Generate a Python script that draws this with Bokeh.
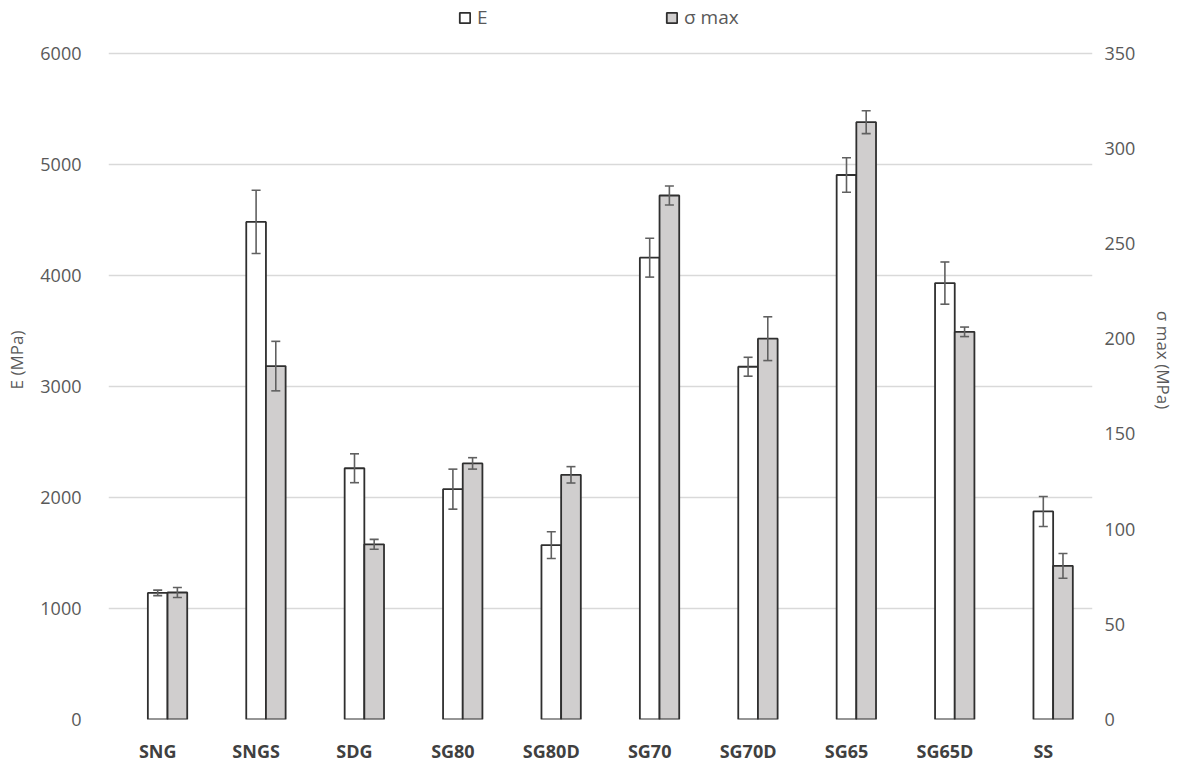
from bokeh.plotting import figure
from bokeh.models import (ColumnDataSource, FactorRange, Range1d, LinearAxis,
                          FixedTicker, Whisker, TeeHead, Legend, LegendItem)
from bokeh.transform import dodge
from bokeh.embed import file_html
from bokeh.resources import INLINE

# Sample series
categories = ["SNG", "SNGS", "SDG", "SG80", "SG80D", "SG70", "SG70D", "SG65", "SG65D", "SS"]

# Young's modulus E (MPa) and its standard deviation
E_mean = [1140, 4480, 2262, 2074, 1570, 4158, 3176, 4902, 3929, 1873]
E_sd = [25, 285, 130, 180, 120, 175, 85, 155, 190, 135]

# Maximum stress sigma max (MPa) and its standard deviation
S_mean = [66.7, 185.6, 92.0, 134.5, 128.5, 275.2, 200.0, 313.7, 203.6, 80.7]
S_sd = [2.6, 13.0, 2.6, 3.0, 4.3, 5.0, 11.5, 6.0, 2.5, 6.5]

left_ticks = [0, 1000, 2000, 3000, 4000, 5000, 6000]
right_ticks = [0, 50, 100, 150, 200, 250, 300, 350]

src = ColumnDataSource(dict(
    cat=categories,
    E=E_mean,
    E_lo=[m - s for m, s in zip(E_mean, E_sd)],
    E_hi=[m + s for m, s in zip(E_mean, E_sd)],
    S=S_mean,
    S_lo=[m - s for m, s in zip(S_mean, S_sd)],
    S_hi=[m + s for m, s in zip(S_mean, S_sd)],
))

FONT = "Open Sans"
TICK_COLOR = "#595959"
GRID_COLOR = "#d9d9d9"
EDGE = "#2f2f2f"
ERR = "#606060"

# The frame runs to the top edge so the legend can sit inside it;
# the value ranges are stretched so that 6000 / 350 land 672 px above zero.
FRAME_H = 725
AXIS_H = 672
p = figure(width=1182, height=765, output_backend="svg", toolbar_location=None,
           x_range=FactorRange(*categories),
           y_range=Range1d(0, left_ticks[-1] * FRAME_H / AXIS_H),
           min_border_left=108, min_border_right=90, min_border_top=0,
           min_border_bottom=40)
p.extra_y_ranges = {"s": Range1d(0, right_ticks[-1] * FRAME_H / AXIS_H)}
p.outline_line_color = None
p.background_fill_color = "white"
p.border_fill_color = "white"

# Bars: E on the primary axis, sigma max on the secondary axis
r_e = p.vbar(x=dodge("cat", 0.0, range=p.x_range), top="E", width=0.2, source=src,
             fill_color="white", line_color=EDGE, line_width=1.8)
r_s = p.vbar(x=dodge("cat", 0.2, range=p.x_range), top="S", width=0.2, source=src,
             fill_color="#d0cece", line_color=EDGE, line_width=1.8, y_range_name="s")

# Error bars, drawn over the bars
def head():
    return TeeHead(size=9, line_color=ERR, line_width=1.6)

p.add_layout(Whisker(source=src, base=dodge("cat", 0.0, range=p.x_range),
                     upper="E_hi", lower="E_lo", line_color=ERR, line_width=1.6,
                     upper_head=head(), lower_head=head(), level="overlay"))
p.add_layout(Whisker(source=src, base=dodge("cat", 0.2, range=p.x_range),
                     upper="S_hi", lower="S_lo", line_color=ERR, line_width=1.6,
                     upper_head=head(), lower_head=head(), y_range_name="s",
                     level="overlay"))

# Grid
p.xgrid.grid_line_color = None
p.ygrid.grid_line_color = GRID_COLOR
p.ygrid.grid_line_width = 1.3
p.yaxis.ticker = FixedTicker(ticks=left_ticks)

# Left axis
ya = p.yaxis[0]
ya.axis_label = "E (MPa)"
ya.axis_line_color = None
ya.major_tick_line_color = None
ya.minor_tick_line_color = None
ya.major_label_standoff = 21
ya.major_label_text_font = FONT
ya.major_label_text_font_size = "18px"
ya.major_label_text_color = TICK_COLOR
ya.axis_label_text_font = FONT
ya.axis_label_text_font_size = "17px"
ya.axis_label_text_font_style = "normal"
ya.axis_label_text_color = TICK_COLOR
ya.axis_label_standoff = 9

# Right axis
ra = LinearAxis(y_range_name="s", ticker=FixedTicker(ticks=right_ticks),
                axis_label="σ max (MPa)")
ra.axis_line_color = None
ra.major_tick_line_color = None
ra.minor_tick_line_color = None
ra.major_label_standoff = 6
ra.major_label_text_font = FONT
ra.major_label_text_font_size = "18px"
ra.major_label_text_color = TICK_COLOR
ra.axis_label_text_font = FONT
ra.axis_label_text_font_size = "17px"
ra.axis_label_text_font_style = "normal"
ra.axis_label_text_color = TICK_COLOR
ra.axis_label_standoff = 14
p.add_layout(ra, "right")

# Category axis
xa = p.xaxis[0]
xa.axis_line_color = None
xa.major_tick_line_color = None
xa.minor_tick_line_color = None
xa.major_label_standoff = 13
xa.major_label_text_font = FONT
xa.major_label_text_font_size = "18px"
xa.major_label_text_font_style = "bold"
xa.major_label_text_color = "#404040"

# Legend across the top of the chart
legend = Legend(items=[LegendItem(label="E", renderers=[r_e]),
                       LegendItem(label="σ max", renderers=[r_s])],
                orientation="horizontal", location=(350, 689),
                glyph_width=13, glyph_height=13, label_standoff=6, spacing=168,
                padding=0, margin=0, border_line_color=None,
                background_fill_alpha=0,
                label_text_font=FONT, label_text_font_size="19px",
                label_text_color=TICK_COLOR)
p.add_layout(legend, "center")

open("out.html", "w").write(file_html(p, INLINE))
